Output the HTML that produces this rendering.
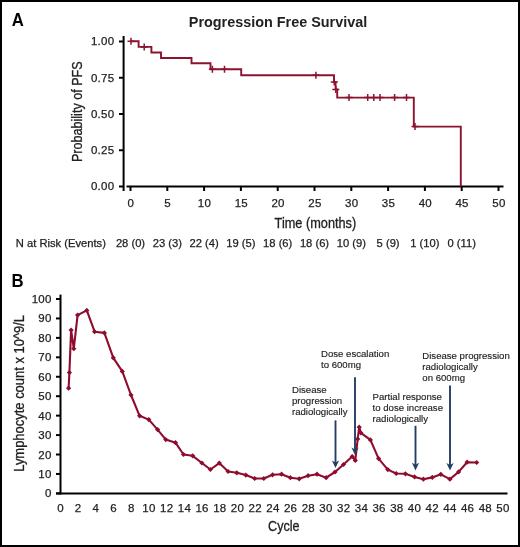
<!DOCTYPE html>
<html><head><meta charset="utf-8">
<style>
html,body{margin:0;padding:0;background:#fff;}
body{width:520px;height:547px;overflow:hidden;}
.fig{position:relative;width:516px;height:543px;border:2px solid #000;background:#fff;}
svg{position:absolute;left:-2px;top:-2px;will-change:transform;}
svg text{font-family:"Liberation Sans", sans-serif;}
.t{stroke:#222;stroke-width:0.25px;letter-spacing:0.25px;}
.n{stroke:#222;stroke-width:0.25px;}
.ax{stroke:#222;stroke-width:0.3px;}
.an{stroke:#222;stroke-width:0.15px;}
</style></head>
<body><div class="fig">
<svg width="520" height="547" viewBox="0 0 520 547">
<text transform="translate(11.7 25.7) scale(0.94 1)" font-size="17.8" font-weight="bold" fill="#000">A</text>
<text transform="translate(11.4 286.8) scale(0.94 1)" font-size="17.8" font-weight="bold" fill="#000">B</text>
<text x="278" y="26.9" font-size="14.4" font-weight="bold" text-anchor="middle" fill="#222">Progression Free Survival</text>
<line x1="123.6" y1="36" x2="123.6" y2="191" stroke="#000" stroke-width="2"/>
<line x1="119" y1="41.50" x2="123.6" y2="41.50" stroke="#000" stroke-width="2"/>
<text x="114.3" y="45.40" font-size="11.5" class="t" text-anchor="end" fill="#222">1.00</text>
<line x1="119" y1="77.75" x2="123.6" y2="77.75" stroke="#000" stroke-width="2"/>
<text x="114.3" y="81.65" font-size="11.5" class="t" text-anchor="end" fill="#222">0.75</text>
<line x1="119" y1="114.00" x2="123.6" y2="114.00" stroke="#000" stroke-width="2"/>
<text x="114.3" y="117.90" font-size="11.5" class="t" text-anchor="end" fill="#222">0.50</text>
<line x1="119" y1="150.25" x2="123.6" y2="150.25" stroke="#000" stroke-width="2"/>
<text x="114.3" y="154.15" font-size="11.5" class="t" text-anchor="end" fill="#222">0.25</text>
<line x1="119" y1="186.50" x2="123.6" y2="186.50" stroke="#000" stroke-width="2"/>
<text x="114.3" y="190.40" font-size="11.5" class="t" text-anchor="end" fill="#222">0.00</text>
<line x1="126.5" y1="186.5" x2="503.5" y2="186.5" stroke="#000" stroke-width="2"/>
<line x1="130.50" y1="186.5" x2="130.50" y2="191" stroke="#000" stroke-width="2"/>
<text x="130.90" y="206.6" class="t" font-size="11.5" text-anchor="middle" fill="#222">0</text>
<line x1="167.30" y1="186.5" x2="167.30" y2="191" stroke="#000" stroke-width="2"/>
<text x="167.70" y="206.6" class="t" font-size="11.5" text-anchor="middle" fill="#222">5</text>
<line x1="204.10" y1="186.5" x2="204.10" y2="191" stroke="#000" stroke-width="2"/>
<text x="204.50" y="206.6" class="t" font-size="11.5" text-anchor="middle" fill="#222">10</text>
<line x1="240.90" y1="186.5" x2="240.90" y2="191" stroke="#000" stroke-width="2"/>
<text x="241.30" y="206.6" class="t" font-size="11.5" text-anchor="middle" fill="#222">15</text>
<line x1="277.70" y1="186.5" x2="277.70" y2="191" stroke="#000" stroke-width="2"/>
<text x="278.10" y="206.6" class="t" font-size="11.5" text-anchor="middle" fill="#222">20</text>
<line x1="314.50" y1="186.5" x2="314.50" y2="191" stroke="#000" stroke-width="2"/>
<text x="314.90" y="206.6" class="t" font-size="11.5" text-anchor="middle" fill="#222">25</text>
<line x1="351.30" y1="186.5" x2="351.30" y2="191" stroke="#000" stroke-width="2"/>
<text x="351.70" y="206.6" class="t" font-size="11.5" text-anchor="middle" fill="#222">30</text>
<line x1="388.10" y1="186.5" x2="388.10" y2="191" stroke="#000" stroke-width="2"/>
<text x="388.50" y="206.6" class="t" font-size="11.5" text-anchor="middle" fill="#222">35</text>
<line x1="424.90" y1="186.5" x2="424.90" y2="191" stroke="#000" stroke-width="2"/>
<text x="425.30" y="206.6" class="t" font-size="11.5" text-anchor="middle" fill="#222">40</text>
<line x1="461.70" y1="186.5" x2="461.70" y2="191" stroke="#000" stroke-width="2"/>
<text x="462.10" y="206.6" class="t" font-size="11.5" text-anchor="middle" fill="#222">45</text>
<line x1="498.50" y1="186.5" x2="498.50" y2="191" stroke="#000" stroke-width="2"/>
<text x="498.90" y="206.6" class="t" font-size="11.5" text-anchor="middle" fill="#222">50</text>
<text transform="translate(315.4 227.6) scale(0.91 1)" class="ax" font-size="14" text-anchor="middle" fill="#222">Time (months)</text>
<text transform="translate(81.7 111.7) rotate(-90) scale(0.875 1)" class="ax" font-size="14.4" text-anchor="middle" fill="#222">Probability of PFS</text>
<text x="15.8" y="246.8" class="n" font-size="11.2" fill="#222">N at Risk (Events)</text>
<text x="130.50" y="246.8" class="n" font-size="11.2" text-anchor="middle" fill="#222">28 (0)</text>
<text x="167.30" y="246.8" class="n" font-size="11.2" text-anchor="middle" fill="#222">23 (3)</text>
<text x="204.10" y="246.8" class="n" font-size="11.2" text-anchor="middle" fill="#222">22 (4)</text>
<text x="240.90" y="246.8" class="n" font-size="11.2" text-anchor="middle" fill="#222">19 (5)</text>
<text x="277.70" y="246.8" class="n" font-size="11.2" text-anchor="middle" fill="#222">18 (6)</text>
<text x="314.50" y="246.8" class="n" font-size="11.2" text-anchor="middle" fill="#222">18 (6)</text>
<text x="351.30" y="246.8" class="n" font-size="11.2" text-anchor="middle" fill="#222">10 (9)</text>
<text x="388.10" y="246.8" class="n" font-size="11.2" text-anchor="middle" fill="#222">5 (9)</text>
<text x="424.90" y="246.8" class="n" font-size="11.2" text-anchor="middle" fill="#222">1 (10)</text>
<text x="461.70" y="246.8" class="n" font-size="11.2" text-anchor="middle" fill="#222">0 (11)</text>
<path d="M130.5,41.3 H138.6 V46.9 H151.4 V52.5 H161 V58 H191.5 V63.3 H210.5 V69.2 H241.2 V75.3 H334 V82 H335.6 V89.4 H337.2 V97.6 H413.8 V126.6 H460.8 V186.5" fill="none" stroke="#8c1330" stroke-width="1.9" stroke-linejoin="miter"/>
<path d="M127.5,41.3h7M131.0,37.8v7 M140.7,46.9h7M144.2,43.4v7 M208.9,69.2h7M212.4,65.7v7 M221.0,69.2h7M224.5,65.7v7 M312.4,75.3h7M315.9,71.8v7 M330.8,81.9h7M334.3,78.4v7 M332.3,89.4h7M335.8,85.9v7 M345.5,97.6h7M349.0,94.1v7 M364.2,97.6h7M367.7,94.1v7 M370.3,97.6h7M373.8,94.1v7 M376.5,97.6h7M380.0,94.1v7 M391.1,97.6h7M394.6,94.1v7 M403.0,97.6h7M406.5,94.1v7 M411.5,126.6h7M415.0,123.1v7" fill="none" stroke="#8c1330" stroke-width="1.5"/>
<line x1="60.5" y1="294.6" x2="60.5" y2="494.4" stroke="#000" stroke-width="2"/>
<line x1="56" y1="493.40" x2="60.5" y2="493.40" stroke="#000" stroke-width="2"/>
<text x="51.6" y="497.40" class="t" font-size="11.5" text-anchor="end" fill="#222">0</text>
<line x1="56" y1="473.96" x2="60.5" y2="473.96" stroke="#000" stroke-width="2"/>
<text x="51.6" y="477.96" class="t" font-size="11.5" text-anchor="end" fill="#222">10</text>
<line x1="56" y1="454.52" x2="60.5" y2="454.52" stroke="#000" stroke-width="2"/>
<text x="51.6" y="458.52" class="t" font-size="11.5" text-anchor="end" fill="#222">20</text>
<line x1="56" y1="435.08" x2="60.5" y2="435.08" stroke="#000" stroke-width="2"/>
<text x="51.6" y="439.08" class="t" font-size="11.5" text-anchor="end" fill="#222">30</text>
<line x1="56" y1="415.64" x2="60.5" y2="415.64" stroke="#000" stroke-width="2"/>
<text x="51.6" y="419.64" class="t" font-size="11.5" text-anchor="end" fill="#222">40</text>
<line x1="56" y1="396.20" x2="60.5" y2="396.20" stroke="#000" stroke-width="2"/>
<text x="51.6" y="400.20" class="t" font-size="11.5" text-anchor="end" fill="#222">50</text>
<line x1="56" y1="376.76" x2="60.5" y2="376.76" stroke="#000" stroke-width="2"/>
<text x="51.6" y="380.76" class="t" font-size="11.5" text-anchor="end" fill="#222">60</text>
<line x1="56" y1="357.32" x2="60.5" y2="357.32" stroke="#000" stroke-width="2"/>
<text x="51.6" y="361.32" class="t" font-size="11.5" text-anchor="end" fill="#222">70</text>
<line x1="56" y1="337.88" x2="60.5" y2="337.88" stroke="#000" stroke-width="2"/>
<text x="51.6" y="341.88" class="t" font-size="11.5" text-anchor="end" fill="#222">80</text>
<line x1="56" y1="318.44" x2="60.5" y2="318.44" stroke="#000" stroke-width="2"/>
<text x="51.6" y="322.44" class="t" font-size="11.5" text-anchor="end" fill="#222">90</text>
<line x1="56" y1="299.00" x2="60.5" y2="299.00" stroke="#000" stroke-width="2"/>
<text x="51.6" y="303.00" class="t" font-size="11.5" text-anchor="end" fill="#222">100</text>
<line x1="56" y1="493.4" x2="507.5" y2="493.4" stroke="#000" stroke-width="2"/>
<text x="60.50" y="512.2" class="t" font-size="11.5" text-anchor="middle" fill="#222">0</text>
<text x="78.20" y="512.2" class="t" font-size="11.5" text-anchor="middle" fill="#222">2</text>
<text x="95.90" y="512.2" class="t" font-size="11.5" text-anchor="middle" fill="#222">4</text>
<text x="113.60" y="512.2" class="t" font-size="11.5" text-anchor="middle" fill="#222">6</text>
<text x="131.30" y="512.2" class="t" font-size="11.5" text-anchor="middle" fill="#222">8</text>
<text x="149.00" y="512.2" class="t" font-size="11.5" text-anchor="middle" fill="#222">10</text>
<text x="166.70" y="512.2" class="t" font-size="11.5" text-anchor="middle" fill="#222">12</text>
<text x="184.40" y="512.2" class="t" font-size="11.5" text-anchor="middle" fill="#222">14</text>
<text x="202.10" y="512.2" class="t" font-size="11.5" text-anchor="middle" fill="#222">16</text>
<text x="219.80" y="512.2" class="t" font-size="11.5" text-anchor="middle" fill="#222">18</text>
<text x="237.50" y="512.2" class="t" font-size="11.5" text-anchor="middle" fill="#222">20</text>
<text x="255.20" y="512.2" class="t" font-size="11.5" text-anchor="middle" fill="#222">22</text>
<text x="272.90" y="512.2" class="t" font-size="11.5" text-anchor="middle" fill="#222">24</text>
<text x="290.60" y="512.2" class="t" font-size="11.5" text-anchor="middle" fill="#222">26</text>
<text x="308.30" y="512.2" class="t" font-size="11.5" text-anchor="middle" fill="#222">28</text>
<text x="326.00" y="512.2" class="t" font-size="11.5" text-anchor="middle" fill="#222">30</text>
<text x="343.70" y="512.2" class="t" font-size="11.5" text-anchor="middle" fill="#222">32</text>
<text x="361.40" y="512.2" class="t" font-size="11.5" text-anchor="middle" fill="#222">34</text>
<text x="379.10" y="512.2" class="t" font-size="11.5" text-anchor="middle" fill="#222">36</text>
<text x="396.80" y="512.2" class="t" font-size="11.5" text-anchor="middle" fill="#222">38</text>
<text x="414.50" y="512.2" class="t" font-size="11.5" text-anchor="middle" fill="#222">40</text>
<text x="432.20" y="512.2" class="t" font-size="11.5" text-anchor="middle" fill="#222">42</text>
<text x="449.90" y="512.2" class="t" font-size="11.5" text-anchor="middle" fill="#222">44</text>
<text x="467.60" y="512.2" class="t" font-size="11.5" text-anchor="middle" fill="#222">46</text>
<text x="485.30" y="512.2" class="t" font-size="11.5" text-anchor="middle" fill="#222">48</text>
<text x="503.00" y="512.2" class="t" font-size="11.5" text-anchor="middle" fill="#222">50</text>
<text transform="translate(283.8 530.8) scale(0.9 1)" class="ax" font-size="14" text-anchor="middle" fill="#222">Cycle</text>
<text transform="translate(23.6 393.4) rotate(-90) scale(0.926 1)" class="ax" font-size="14" text-anchor="middle" fill="#222">Lymphocyte count x 10^9/L</text>
<path d="M68.6,388.2 L69.4,372.6 L71.1,330.1 L73.8,348.7 L77.6,315.1 L86.8,310.4 L94.6,331.7 L104.4,332.9 L113.3,357.8 L122.3,371.4 L131.0,395.0 L139.6,415.8 L148.8,419.6 L157.6,429.6 L165.8,439.6 L175.5,442.7 L183.5,454.5 L192.7,455.8 L201.9,463.0 L210.4,469.5 L219.3,463.1 L228.1,471.5 L236.8,472.8 L245.8,475.1 L254.7,478.5 L263.8,478.5 L272.6,474.8 L281.6,474.2 L290.4,477.7 L299.2,478.8 L308.1,475.7 L317.0,474.2 L326.2,477.7 L335.0,472.0 L343.5,464.5 L352.2,456.5 L355.3,460.4 L357.7,439.0 L359.2,427.2 L360.8,432.8 L370.4,439.9 L378.6,458.6 L387.8,469.6 L396.2,473.5 L405.4,473.8 L414.6,476.9 L423.4,479.2 L432.3,477.4 L440.8,474.3 L449.9,479.2 L458.6,471.9 L467.1,462.2 L476.7,462.5" fill="none" stroke="#8e0d2f" stroke-width="2.1" stroke-linejoin="round"/>
<path d="M68.6,385.6l2.6,2.6l-2.6,2.6l-2.6,-2.6z M69.4,370.0l2.6,2.6l-2.6,2.6l-2.6,-2.6z M71.1,327.5l2.6,2.6l-2.6,2.6l-2.6,-2.6z M73.8,346.1l2.6,2.6l-2.6,2.6l-2.6,-2.6z M77.6,312.5l2.6,2.6l-2.6,2.6l-2.6,-2.6z M86.8,307.8l2.6,2.6l-2.6,2.6l-2.6,-2.6z M94.6,329.1l2.6,2.6l-2.6,2.6l-2.6,-2.6z M104.4,330.3l2.6,2.6l-2.6,2.6l-2.6,-2.6z M113.3,355.2l2.6,2.6l-2.6,2.6l-2.6,-2.6z M122.3,368.8l2.6,2.6l-2.6,2.6l-2.6,-2.6z M131.0,392.4l2.6,2.6l-2.6,2.6l-2.6,-2.6z M139.6,413.2l2.6,2.6l-2.6,2.6l-2.6,-2.6z M148.8,417.0l2.6,2.6l-2.6,2.6l-2.6,-2.6z M157.6,427.0l2.6,2.6l-2.6,2.6l-2.6,-2.6z M165.8,437.0l2.6,2.6l-2.6,2.6l-2.6,-2.6z M175.5,440.1l2.6,2.6l-2.6,2.6l-2.6,-2.6z M183.5,451.9l2.6,2.6l-2.6,2.6l-2.6,-2.6z M192.7,453.2l2.6,2.6l-2.6,2.6l-2.6,-2.6z M201.9,460.4l2.6,2.6l-2.6,2.6l-2.6,-2.6z M210.4,466.9l2.6,2.6l-2.6,2.6l-2.6,-2.6z M219.3,460.5l2.6,2.6l-2.6,2.6l-2.6,-2.6z M228.1,468.9l2.6,2.6l-2.6,2.6l-2.6,-2.6z M236.8,470.2l2.6,2.6l-2.6,2.6l-2.6,-2.6z M245.8,472.5l2.6,2.6l-2.6,2.6l-2.6,-2.6z M254.7,475.9l2.6,2.6l-2.6,2.6l-2.6,-2.6z M263.8,475.9l2.6,2.6l-2.6,2.6l-2.6,-2.6z M272.6,472.2l2.6,2.6l-2.6,2.6l-2.6,-2.6z M281.6,471.6l2.6,2.6l-2.6,2.6l-2.6,-2.6z M290.4,475.1l2.6,2.6l-2.6,2.6l-2.6,-2.6z M299.2,476.2l2.6,2.6l-2.6,2.6l-2.6,-2.6z M308.1,473.1l2.6,2.6l-2.6,2.6l-2.6,-2.6z M317.0,471.6l2.6,2.6l-2.6,2.6l-2.6,-2.6z M326.2,475.1l2.6,2.6l-2.6,2.6l-2.6,-2.6z M335.0,469.4l2.6,2.6l-2.6,2.6l-2.6,-2.6z M343.5,461.9l2.6,2.6l-2.6,2.6l-2.6,-2.6z M352.2,453.9l2.6,2.6l-2.6,2.6l-2.6,-2.6z M355.3,457.8l2.6,2.6l-2.6,2.6l-2.6,-2.6z M357.7,436.4l2.6,2.6l-2.6,2.6l-2.6,-2.6z M359.2,424.6l2.6,2.6l-2.6,2.6l-2.6,-2.6z M360.8,430.2l2.6,2.6l-2.6,2.6l-2.6,-2.6z M370.4,437.3l2.6,2.6l-2.6,2.6l-2.6,-2.6z M378.6,456.0l2.6,2.6l-2.6,2.6l-2.6,-2.6z M387.8,467.0l2.6,2.6l-2.6,2.6l-2.6,-2.6z M396.2,470.9l2.6,2.6l-2.6,2.6l-2.6,-2.6z M405.4,471.2l2.6,2.6l-2.6,2.6l-2.6,-2.6z M414.6,474.3l2.6,2.6l-2.6,2.6l-2.6,-2.6z M423.4,476.6l2.6,2.6l-2.6,2.6l-2.6,-2.6z M432.3,474.8l2.6,2.6l-2.6,2.6l-2.6,-2.6z M440.8,471.7l2.6,2.6l-2.6,2.6l-2.6,-2.6z M449.9,476.6l2.6,2.6l-2.6,2.6l-2.6,-2.6z M458.6,469.3l2.6,2.6l-2.6,2.6l-2.6,-2.6z M467.1,459.6l2.6,2.6l-2.6,2.6l-2.6,-2.6z M476.7,459.9l2.6,2.6l-2.6,2.6l-2.6,-2.6z" fill="#8e0d2f"/>
<line x1="335.5" y1="420.4" x2="335.5" y2="463.0" stroke="#253e66" stroke-width="1.9"/>
<path d="M335.5,468.0 L331.9,460.4 L335.5,462.4 L339.1,460.4 Z" fill="#253e66"/>
<line x1="355.0" y1="377.3" x2="355.0" y2="450.0" stroke="#253e66" stroke-width="1.9"/>
<path d="M355.0,455.0 L351.4,447.4 L355.0,449.4 L358.6,447.4 Z" fill="#253e66"/>
<line x1="415.5" y1="425.8" x2="415.5" y2="465.4" stroke="#253e66" stroke-width="1.9"/>
<path d="M415.5,470.4 L411.9,462.79999999999995 L415.5,464.79999999999995 L419.1,462.79999999999995 Z" fill="#253e66"/>
<line x1="450.0" y1="385.6" x2="450.0" y2="465.6" stroke="#253e66" stroke-width="1.9"/>
<path d="M450.0,470.6 L446.4,463.0 L450.0,465.0 L453.6,463.0 Z" fill="#253e66"/>
<text x="292.0" y="392.8" font-size="9.6" class="an" fill="#222">Disease</text>
<text x="292.0" y="404.0" font-size="9.6" class="an" fill="#222">progression</text>
<text x="292.0" y="415.2" font-size="9.6" class="an" fill="#222">radiologically</text>
<text x="321.0" y="357.3" font-size="9.6" class="an" fill="#222">Dose escalation</text>
<text x="321.0" y="368.4" font-size="9.6" class="an" fill="#222">to 600mg</text>
<text x="372.6" y="400.4" font-size="9.6" class="an" fill="#222">Partial response</text>
<text x="372.6" y="411.2" font-size="9.6" class="an" fill="#222">to dose increase</text>
<text x="372.6" y="422.0" font-size="9.6" class="an" fill="#222">radiologically</text>
<text x="422.3" y="358.7" font-size="9.6" class="an" fill="#222">Disease progression</text>
<text x="422.3" y="369.8" font-size="9.6" class="an" fill="#222">radiologically</text>
<text x="422.3" y="381.0" font-size="9.6" class="an" fill="#222">on 600mg</text>
</svg>
</div></body></html>
